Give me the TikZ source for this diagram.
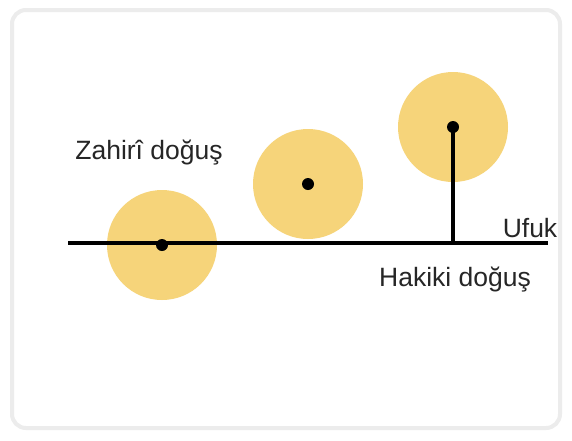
\documentclass[tikz,border=0pt]{standalone}
\usepackage{fontspec}
\setmainfont{Liberation Sans}
\definecolor{sun}{HTML}{F6D47A}
\definecolor{frame}{HTML}{ECECEC}
\begin{document}
\begin{tikzpicture}[x=1pt,y=-1pt,
  sunbody/.style={fill=sun,draw=none},
  dot/.style={circle,fill=black,inner sep=0pt,minimum size=12pt},
  lbl/.style={font=\fontsize{26.5}{30}\selectfont,text=black!85,inner sep=0pt},
  ln/.style={line width=3.2pt,black}]
\useasboundingbox (0,0) rectangle (572,440);
\fill[white] (0,0) rectangle (572,440);
\draw[frame,line width=4pt,rounded corners=14pt] (12,10) rectangle (560,428);
\fill[sunbody] (162,245) circle (55);
\fill[sunbody] (308,184) circle (55);
\fill[sunbody] (453,127) circle (55);
\node[dot] (s1) at (162,245) {};
\node[dot] (s2) at (308,184) {};
\node[dot] (s3) at (453,127) {};
\coordinate (hl) at (68,243);
\coordinate (hr) at (548,243);
\coordinate (foot) at (453,243);
\draw[ln] (hl) -- (hr);
\draw[ln] (s3.center) -- (foot);
\node[lbl] (z) at (149,153) {Zahirî doğuş};
\node[lbl] (u) at (530,228) {Ufuk};
\node[lbl] (h) at (455,280) {Hakiki doğuş};
\end{tikzpicture}
\end{document}
